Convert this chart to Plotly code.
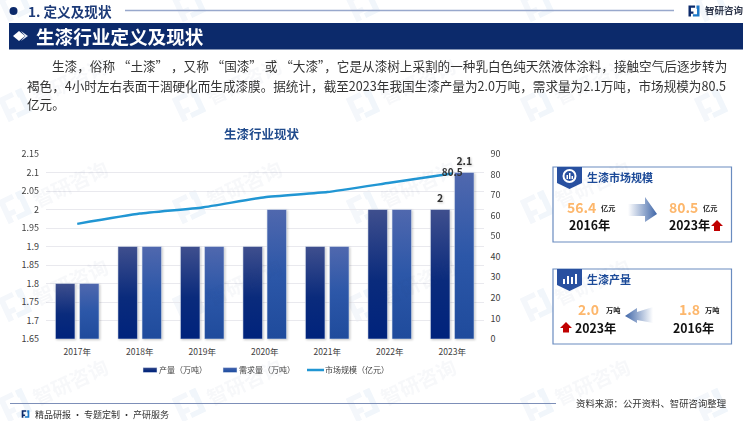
import math
import plotly.graph_objects as go

# 数据
years = ['2017年', '2018年', '2019年', '2020年', '2021年', '2022年', '2023年']
produccion = [1.8, 1.9, 1.9, 1.9, 1.9, 2, 2]
demanda = [1.8, 1.9, 1.9, 2, 1.9, 2, 2.1]
mercado = [56, 61, 64, 69, 71.5, 76, 80.5]
texto_prod = ['', '', '', '', '', '', '2']
texto_dem = ['', '', '', '', '', '', '2.1']
texto_mer = ['', '', '', '', '', '', '80.5']

W, H = 750, 421
FONT = 'Noto Sans CJK SC'
NAVY = '#0c2a6b'
ORANGE = '#fdb76c'
RED = '#c00000'


def px(x):
    return x / W


def py(y):
    return 1 - y / H


annotations = []
shapes = []


def text(x, y, s, size, color='#333333', bold=False, anchor='left', angle=0):
    if bold:
        s = '<b>' + s + '</b>'
    annotations.append(dict(x=px(x), y=py(y), xref='paper', yref='paper', text=s, showarrow=False,
                            xanchor=anchor, yanchor='middle', textangle=angle,
                            borderpad=0, font=dict(family=FONT, size=size, color=color)))


def poly(points, color, layer='above', line=None, width=0):
    d = 'M' + 'L'.join('%.5f,%.5f' % (px(a), py(b)) for a, b in points) + 'Z'
    shapes.append(dict(type='path', path=d, xref='paper', yref='paper', fillcolor=color, layer=layer,
                       line=dict(color=line or color, width=width)))


def rect(x0, y0, x1, y1, color, layer='above', line=None, width=0):
    poly([(x0, y0), (x1, y0), (x1, y1), (x0, y1)], color, layer, line, width)


def hline(x0, x1, y, color, width):
    shapes.append(dict(type='line', x0=px(x0), x1=px(x1), y0=py(y), y1=py(y), xref='paper', yref='paper',
                       line=dict(color=color, width=width)))


def circle(cx, cy, r, color, layer='above', line=None, width=0):
    shapes.append(dict(type='circle', x0=px(cx - r), x1=px(cx + r), y0=py(cy - r), y1=py(cy + r),
                       xref='paper', yref='paper', fillcolor=color, layer=layer,
                       line=dict(color=line or color, width=width)))


def logo(cx, cy, s, angle, c1, c2, layer='above'):
    # marca de la empresa, dos piezas
    a = math.radians(angle)

    def rot(p):
        return (cx + s * (p[0] * math.cos(a) - p[1] * math.sin(a)), cy + s * (p[0] * math.sin(a) + p[1] * math.cos(a)))
    pieza1 = [(-1, -1), (0.2, -1), (0.2, -0.6), (-0.55, -0.6), (-0.55, 0.1), (-0.1, 0.1), (-0.1, 0.5), (-0.55, 0.5), (-0.55, 1), (-1, 1)]
    pieza2 = [(0.45, -1), (1, -1), (1, 1), (-0.2, 1), (-0.2, 0.6), (0.55, 0.6), (0.55, -0.4), (0.45, -0.4)]
    poly([rot(p) for p in pieza1], c1, layer)
    poly([rot(p) for p in pieza2], c2, layer)


# marca de agua
for j, fy in enumerate([5, 105, 207, 305, 405]):
    for i in range(5):
        fx = 15 + 174 * i
        logo(fx, fy, 13, -25, '#f4f7fb', '#f1f6fb', 'below')
        if j > 0 and i < 4:
            text(fx + 55, fy - 24, '智研咨询', 20, 'rgba(40,80,140,0.04)', True, 'center', -25)

# cabecera
circle(13.5, 11, 4, NAVY)
text(27, 11, '1. 定义及现状', 13.6, '#1c3a78', True)
hline(125, 674, 10.5, '#98a8cc', 1.5)
logo(694, 11, 5.5, 0, NAVY, '#1c78c8')
text(704, 10.5, '智研咨询', 9.5, '#30384c', True)
rect(9, 23, 743, 49.5, NAVY)
poly([(13, 36), (19, 31), (25, 36), (19, 41)], '#ffffff')
poly([(21, 31), (28, 36), (21, 41), (25, 36)], '#dfe6f2')
text(35, 35.5, '生漆行业定义及现状', 18.6, '#ffffff', True)

# texto principal
text(51, 66, '生漆，俗称 “土漆” ，又称 “国漆” 或 “大漆”，它是从漆树上采割的一种乳白色纯天然液体涂料，接触空气后逐步转为', 12.6)
text(26, 85, '褐色，4小时左右表面干涸硬化而生成漆膜。据统计，截至2023年我国生漆产量为2.0万吨，需求量为2.1万吨，市场规模为80.5', 12.6)
text(26, 104, '亿元。', 12.6)
text(262, 134, '生漆行业现状', 12.5, '#1f4a8c', True, 'center')

# tarjeta de mercado
rect(553, 167, 731.5, 242, '#ffffff', 'above', '#6a8cc0', 1.2)
poly([(557, 167), (582, 167), (582, 183), (569.5, 189), (557, 183)], '#2850a0')
circle(569.5, 176, 6, '#2850a0', 'above', '#ffffff', 2)
rect(566.5, 175, 568, 179, '#ffffff')
rect(569, 173, 570.5, 179, '#ffffff')
rect(571.5, 176, 573, 179, '#ffffff')
text(586, 177, '生漆市场规模', 11, '#1c4a98', True)
text(566, 207, '56.4', 14, ORANGE, True)
text(600, 208, '亿元', 7.2, '#222222', True)
text(568, 225, '2016年', 12.3, '#111111', True)
poly([(628, 204), (645, 204), (645, 197), (657, 214), (645, 222), (645, 216), (628, 216)], '#010203')
text(668, 207, '80.5', 14, ORANGE, True)
text(702, 208, '亿元', 7.2, '#222222', True)
text(668, 225, '2023年', 12.3, '#111111', True)
poly([(717, 220), (723, 226), (720, 226), (720, 231), (714, 231), (714, 226), (711, 226)], RED)

# tarjeta de produccion
rect(553, 269, 731.5, 344, '#ffffff', 'above', '#6a8cc0', 1.2)
poly([(557, 269), (582, 269), (582, 285), (569.5, 291), (557, 285)], '#2850a0')
rect(563, 279, 565, 284, '#ffffff')
rect(567, 276, 569, 284, '#ffffff')
rect(571, 277, 573, 284, '#ffffff')
rect(575, 274, 577, 284, '#ffffff')
text(586, 279, '生漆产量', 11, '#1c4a98', True)
text(577, 309, '2.0', 14, ORANGE, True)
text(605, 310, '万吨', 7.2, '#222222', True)
text(574, 328, '2023年', 12.3, '#111111', True)
poly([(566, 322), (572, 328), (569, 328), (569, 332.5), (563, 332.5), (563, 328), (560, 328)], RED)
poly([(653, 307), (637, 312), (637, 308), (625, 316), (637, 323), (637, 320), (653, 323)], '#040506')
text(678, 309, '1.8', 14, ORANGE, True)
text(704, 310, '万吨', 7.2, '#222222', True)
text(672, 328, '2016年', 12.3, '#111111', True)

# pie de pagina
hline(10, 556, 403.5, '#7d8fb8', 1.2)
text(575, 403, '资料来源：公开资料、智研咨询整理', 9.4, '#333333')
logo(25.5, 414, 3.8, 0, NAVY, '#1c78c8')
text(34, 414, '精品研报 · 专题定制 · 产研服务', 9, '#333333')

fig = go.Figure()
fig.add_trace(go.Bar(x=years, y=produccion, name='产量（万吨）', marker_color='#0a2a7a', text=texto_prod,
                     textposition='outside', cliponaxis=False,
                     textfont=dict(family=FONT, size=10.5, color='#333333', weight='bold')))
fig.add_trace(go.Bar(x=years, y=demanda, name='需求量（万吨）', marker_color='#2a55a8', text=texto_dem,
                     textposition='outside', cliponaxis=False,
                     textfont=dict(family=FONT, size=10.5, color='#333333', weight='bold')))
fig.add_trace(go.Scatter(x=years, y=mercado, name='市场规模（亿元）', yaxis='y2', mode='lines+text', text=texto_mer,
                         textposition='middle center', cliponaxis=False,
                         textfont=dict(family=FONT, size=10, color='#333333', weight='bold'),
                         line=dict(color='#2196d3', width=2.5, shape='spline', smoothing=0.4)))

fig.update_layout(
    width=W, height=H, autosize=False, margin=dict(l=0, r=0, t=0, b=0, autoexpand=False),
    paper_bgcolor='#ffffff', plot_bgcolor='rgba(0,0,0,0)',
    font=dict(family=FONT, size=8.5, color='#404040'),
    barmode='group', bargap=0.23, bargroupgap=0.19,
    annotations=annotations, shapes=shapes, hovermode=False,
    xaxis=dict(domain=[px(46), px(483.5)], anchor='y', showgrid=False, ticks='', showline=False,
               tickfont=dict(size=8.5), ticklabelstandoff=6),
    yaxis=dict(domain=[py(339), py(154)], range=[1.65, 2.15], dtick=0.05, gridcolor='#e9e9ee', gridwidth=1,
               zeroline=False, ticks='', tickfont=dict(size=9), ticklabelstandoff=6),
    yaxis2=dict(overlaying='y', side='right', range=[0, 90], dtick=10, showgrid=False, zeroline=False,
                ticks='', tickfont=dict(size=9), anchor='x', ticklabelstandoff=6),
    legend=dict(orientation='h', x=px(119), y=py(370), xanchor='left', yanchor='middle',
                bgcolor='rgba(0,0,0,0)', font=dict(size=8, color='#404040'),
                entrywidth=38, entrywidthmode='pixels', traceorder='normal'),
)

# degradados de barras y flechas
post = """
document.body.style.margin='0';document.body.style.overflow='hidden';
var gd=document.getElementsByClassName('plotly-graph-div')[0];
var svg=gd.querySelector('svg.main-svg');
var NS='http://www.w3.org/2000/svg';
var defs=document.createElementNS(NS,'defs');
function grad(id,x2,y2,stops){
  var g=document.createElementNS(NS,'linearGradient');
  g.setAttribute('id',id);g.setAttribute('x1','0%');g.setAttribute('y1','0%');
  g.setAttribute('x2',x2);g.setAttribute('y2',y2);
  stops.forEach(function(s){var e=document.createElementNS(NS,'stop');
    e.setAttribute('offset',s[0]);e.setAttribute('stop-color',s[1]);g.appendChild(e);});
  defs.appendChild(g);
}
grad('gProd','0%','100%',[[0,'#3f4f8e'],[0.55,'#0a2b7c'],[1,'#00237c']]);
grad('gDem','0%','100%',[[0,'#5068ae'],[0.5,'#2c57a8'],[1,'#1f4b9c']]);
grad('gArrR','100%','0%',[[0,'#ffffff'],[1,'#3f66a8']]);
grad('gArrL','100%','0%',[[0,'#3f66a8'],[1,'#ffffff']]);
svg.insertBefore(defs,svg.firstChild);
var ids=['gProd','gDem'];
var alto=gd._fullLayout.yaxis._length;
gd.querySelectorAll('.barlayer .trace').forEach(function(t,i){
  t.style.filter='drop-shadow(1px 1px 1px rgba(0,0,0,0.22))';
  t.querySelectorAll('.point path').forEach(function(p){
    // la barra nace en 0, fuera del eje: recortar para que el degradado se vea entero
    var d=p.getAttribute('d');
    p.setAttribute('d',d.replace(/^M([\\d.\\-]+),[\\d.\\-]+V([\\d.\\-]+)H([\\d.\\-]+)V[\\d.\\-]+Z$/,'M$1,'+alto+'V$2H$3V'+alto+'Z'));
    p.style.fill='url(#'+ids[i]+')';
  });
  t.querySelectorAll('text').forEach(function(x){
    x.setAttribute('transform','translate(0,-2) '+(x.getAttribute('transform')||''));
  });
});
var ajuste=[0,-3,0];
gd.querySelectorAll('.legend .traces').forEach(function(t,i){
  t.querySelectorAll('.legendpoints path').forEach(function(p){
    if(i<2){p.setAttribute('d','M18,2.5H4V-2.5H18Z');p.style.fill='url(#'+ids[i]+')';}
  });
  t.querySelectorAll('.legendlines path').forEach(function(p){p.setAttribute('d','M22,0h17');});
  t.setAttribute('transform','translate('+ajuste[i]+',0) '+t.getAttribute('transform'));
  t.removeAttribute('clip-path');
  t.style.clipPath='none';
  t.querySelectorAll('[clip-path]').forEach(function(c){c.removeAttribute('clip-path');});
});
gd.querySelectorAll('.legend [clip-path]').forEach(function(c){c.removeAttribute('clip-path');});
gd.querySelectorAll('.shapelayer path').forEach(function(p){
  if(p.style.fill==='rgb(1, 2, 3)'){p.style.fill='url(#gArrR)';p.style.stroke='none';}
  if(p.style.fill==='rgb(4, 5, 6)'){p.style.fill='url(#gArrL)';p.style.stroke='none';}
});
"""

fig.write_html("out.html", post_script=post, config={'displayModeBar': False})
